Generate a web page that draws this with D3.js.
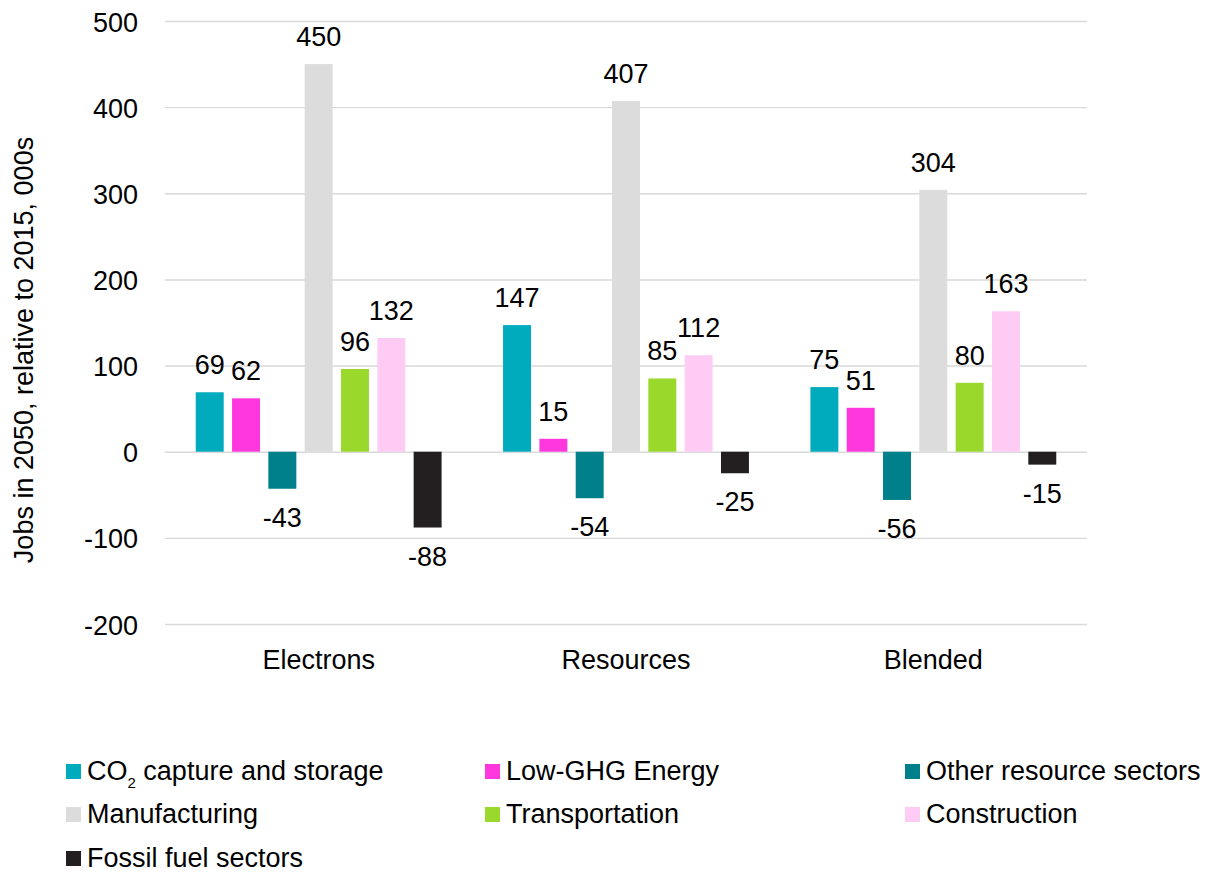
<!DOCTYPE html>
<html>
<head>
<meta charset="utf-8">
<script src="https://cdn.jsdelivr.net/npm/d3@7"></script>
<style>
  html, body { margin: 0; padding: 0; background: #fff; }
  svg text { font-family: "Liberation Sans", Arial, Helvetica, sans-serif; fill: #000; }
</style>
</head>
<body>
<svg id="chart" width="1208" height="873"></svg>
<script>
const categories = ["Electrons", "Resources", "Blended"];
const seriesNames = ["CO2 capture and storage", "Low-GHG Energy", "Other resource sectors",
                     "Manufacturing", "Transportation", "Construction", "Fossil fuel sectors"];
const seriesColors = ["#00abbd", "#ff38de", "#00808a", "#dcdcdc", "#9ad82b", "#fecbf5", "#231f20"];
const co2Values = [69, 147, 75];
const lowGhgValues = [62, 15, 51];
const otherResourceValues = [-43, -54, -56];
const manufacturingValues = [450, 407, 304];
const transportationValues = [96, 85, 80];
const constructionValues = [132, 112, 163];
const fossilValues = [-88, -25, -15];
const yTicks = [-200, -100, 0, 100, 200, 300, 400, 500];
const yAxisTitle = "Jobs in 2050, relative to 2015, 000s";

const seriesValues = [co2Values, lowGhgValues, otherResourceValues, manufacturingValues,
                      transportationValues, constructionValues, fossilValues];

const svg = d3.select("#chart");
const fontSize = 27;
const plot = { left: 165, right: 1087, top: 21, bottom: 624 };

const y = d3.scaleLinear().domain([-200, 500]).range([plot.bottom, plot.top]);
const x0 = d3.scaleBand().domain(categories).range([plot.left, plot.right])
  .paddingInner(0.2).paddingOuter(0.1);
const x1 = d3.scaleBand().domain(seriesNames).range([0, x0.bandwidth()])
  .paddingInner(0.23).paddingOuter(0);

// gridlines
const yAxis = d3.axisLeft(y).tickValues(yTicks).tickFormat(d => String(d))
  .tickSize(-(plot.right - plot.left)).tickPadding(27);
const gAxis = svg.append("g").attr("transform", `translate(${plot.left},0)`).call(yAxis);
gAxis.select(".domain").remove();
gAxis.selectAll(".tick line").attr("stroke", "#d9d9d9").attr("stroke-width", 1.4);
gAxis.selectAll(".tick text")
  .attr("font-size", fontSize)
  .attr("fill", "#000")
  .attr("dy", null)
  .attr("y", 10)
  .style("font-family", '"Liberation Sans", Arial, sans-serif');

// bars
const data = [];
categories.forEach((c, ci) => {
  seriesNames.forEach((s, si) => {
    data.push({ cat: c, series: s, value: seriesValues[si][ci], color: seriesColors[si] });
  });
});

const barG = svg.append("g");
barG.selectAll("rect").data(data).enter().append("rect")
  .attr("x", d => x0(d.cat) + x1(d.series))
  .attr("width", x1.bandwidth())
  .attr("y", d => y(Math.max(0, d.value)))
  .attr("height", d => Math.abs(y(d.value) - y(0)))
  .attr("fill", d => d.color);

// value labels
svg.append("g").selectAll("text").data(data).enter().append("text")
  .attr("x", d => x0(d.cat) + x1(d.series) + x1.bandwidth() / 2)
  .attr("y", d => d.value >= 0 ? y(d.value) - 18 : y(d.value) + 38)
  .attr("text-anchor", "middle")
  .attr("font-size", fontSize)
  .text(d => String(d.value));

// category labels
svg.append("g").selectAll("text").data(categories).enter().append("text")
  .attr("x", d => x0(d) + x0.bandwidth() / 2)
  .attr("y", 669)
  .attr("text-anchor", "middle")
  .attr("font-size", fontSize)
  .text(d => d);

// y axis title
svg.append("text")
  .attr("transform", `translate(33, ${(132 + 568) / 2}) rotate(-90)`)
  .attr("text-anchor", "middle")
  .attr("font-size", fontSize)
  .text(yAxisTitle);

// legend
const legendCols = [66, 485, 905];
const legendRows = [780, 823, 867];
const legend = svg.append("g");
seriesNames.forEach((s, i) => {
  const col = i % 3, row = Math.floor(i / 3);
  const lx = legendCols[col], ly = legendRows[row];
  legend.append("rect")
    .attr("x", lx).attr("y", ly - 16).attr("width", 15).attr("height", 15)
    .attr("fill", seriesColors[i]);
  const t = legend.append("text")
    .attr("x", lx + 21).attr("y", ly)
    .attr("font-size", fontSize);
  if (s.startsWith("CO2")) {
    t.append("tspan").text("CO");
    t.append("tspan").attr("font-size", 15).attr("dy", 8).text("2");
    t.append("tspan").attr("dy", -8).text(s.slice(3));
  } else {
    t.text(s);
  }
});
</script>
</body>
</html>
